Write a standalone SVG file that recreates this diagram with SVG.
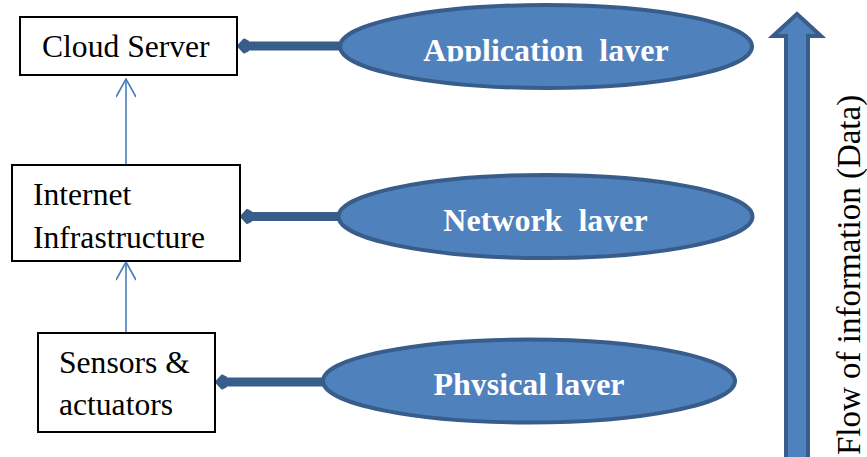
<svg xmlns="http://www.w3.org/2000/svg" width="867" height="457" viewBox="0 0 867 457">
<style>
.box{fill:#fff;stroke:#000;stroke-width:2}
.btxt{font-family:"Liberation Serif","Times New Roman",serif;font-size:31.6px;fill:#000}
.ell{fill:#4f81bd;stroke:#385d8a;stroke-width:4}
.etxt{font-family:"Liberation Serif","Times New Roman",serif;font-size:32px;font-weight:bold;fill:#fff;text-anchor:middle}
.thin{stroke:#4a7ebb;stroke-width:1.6;fill:none}
.thick{stroke:#385d8a;stroke-width:9;fill:none}
.head{fill:#385d8a;stroke:#385d8a;stroke-width:2;stroke-linejoin:round}
.big{fill:#4f81bd;stroke:#385d8a;stroke-width:4}
.flow{font-family:"Liberation Serif","Times New Roman",serif;font-size:33px;fill:#000}
</style>
<defs>
<marker id="open" viewBox="0 0 20 20" refX="19" refY="10" markerWidth="20" markerHeight="20" markerUnits="userSpaceOnUse" orient="auto">
<path d="M1,0 L19,10 L1,20" fill="none" stroke="#4a7ebb" stroke-width="1.6"/>
</marker>
<clipPath id="c1"><rect x="300" y="0" width="460" height="61.5"/></clipPath>
<clipPath id="c2"><rect x="300" y="160" width="460" height="71.8"/></clipPath>
<clipPath id="c3"><rect x="300" y="330" width="460" height="65.8"/></clipPath>
</defs>
<g id="connectors">
<line class="thin" x1="126" y1="165" x2="126" y2="79" marker-end="url(#open)"/>
<line class="thin" x1="126" y1="333" x2="126" y2="262" marker-end="url(#open)"/>
<line class="thick" x1="246" y1="46" x2="342" y2="46"/>
<path class="head" d="M238,46 L244,39.5 L248,41.5 L248,50.5 L244,52.5 Z"/>
<line class="thick" x1="249" y1="216.5" x2="340" y2="216.5"/>
<path class="head" d="M241,216.5 L247,210 L251,212 L251,221 L247,223 Z"/>
<line class="thick" x1="224" y1="382" x2="325" y2="382"/>
<path class="head" d="M216,382 L222,375.5 L226,377.5 L226,386.5 L222,388.5 Z"/>
</g>
<g id="cloud-server">
<rect class="box" x="20" y="17" width="217" height="58"/>
<text class="btxt" x="42" y="57">Cloud Server</text>
</g>
<g id="internet-infrastructure">
<rect class="box" x="12" y="165" width="228" height="96"/>
<text class="btxt" x="33" y="205">Internet</text>
<text class="btxt" x="33" y="248">Infrastructure</text>
</g>
<g id="sensors-actuators">
<rect class="box" x="38" y="333" width="177" height="99"/>
<text class="btxt" x="59" y="373">Sensors &amp;</text>
<text class="btxt" x="59" y="415">actuators</text>
</g>
<g id="application-layer">
<ellipse class="ell" cx="546" cy="46.5" rx="206" ry="41.5"/>
<text class="etxt" x="546" y="61" clip-path="url(#c1)" xml:space="preserve">Application  layer</text>
</g>
<g id="network-layer">
<ellipse class="ell" cx="545.5" cy="216.5" rx="207" ry="41.5"/>
<text class="etxt" x="545.5" y="231.3" clip-path="url(#c2)" xml:space="preserve">Network  layer</text>
</g>
<g id="physical-layer">
<ellipse class="ell" cx="529" cy="381" rx="206" ry="41.5"/>
<text class="etxt" x="529" y="395.3" clip-path="url(#c3)">Physical layer</text>
</g>
<g id="flow-arrow">
<polygon class="big" points="797,14 821,36 808,36 808,462 786,462 786,36 773,36"/>
<text class="flow" transform="translate(860,455) rotate(-90)">Flow of information (Data)</text>
</g>
</svg>
